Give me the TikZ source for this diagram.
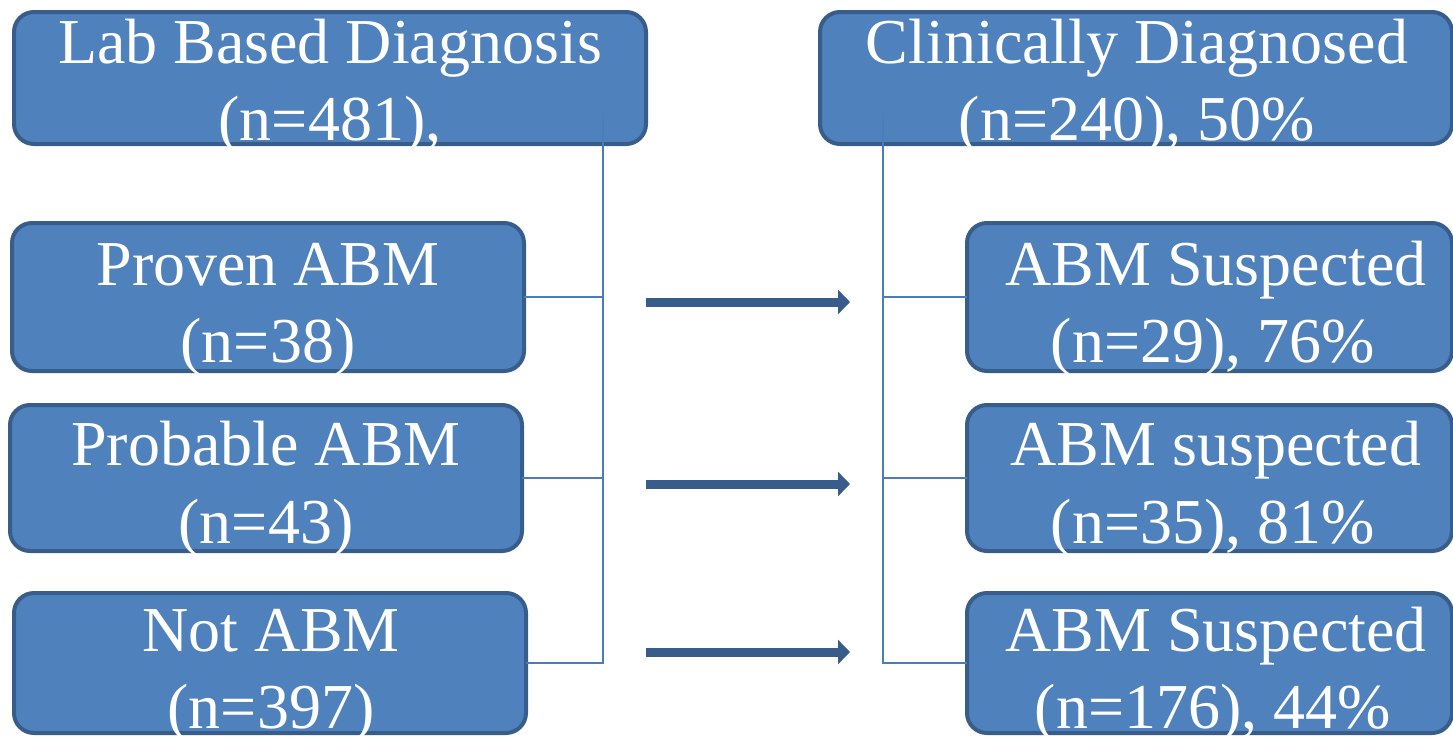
\documentclass[tikz,border=0pt]{standalone}
\usepackage{fontspec}
\setmainfont{Liberation Serif}
\usetikzlibrary{arrows.meta}
\definecolor{boxfill}{HTML}{4F81BD}
\definecolor{boxline}{HTML}{385D8A}
\definecolor{conn}{HTML}{4A7EBB}
\begin{document}
\begin{tikzpicture}[x=1pt,y=-1pt,
  box/.style={draw=boxline, line width=4pt, fill=boxfill, rounded corners=20pt, inner sep=0pt, outer sep=0pt},
  txt/.style={text=white, font=\fontsize{64}{77}\selectfont, anchor=base, inner sep=0pt},
  conline/.style={draw=conn, line width=2pt},
  bigarrow/.style={draw=boxline, line width=9pt, -{Triangle[width=24pt,length=12pt]}}]
\useasboundingbox (0,0) rectangle (1453,736);
% boxes
\node[box, minimum width=632pt, minimum height=132pt] (lab) at (330,78) {};
\node[box, minimum width=632pt, minimum height=132pt] (clin) at (1136,78) {};
\node[box, minimum width=512pt, minimum height=148pt] (prov) at (268,297) {};
\node[box, minimum width=512pt, minimum height=146pt] (prob) at (266,478) {};
\node[box, minimum width=512pt, minimum height=140pt] (notb) at (270,663) {};
\node[box, minimum width=485pt, minimum height=148pt] (sus1) at (1209.5,297) {};
\node[box, minimum width=485pt, minimum height=146pt] (sus2) at (1209.5,478) {};
\node[box, minimum width=485pt, minimum height=140pt] (sus3) at (1209.5,663) {};
% connectors
\coordinate (ltop) at (603,113);
\coordinate (rtop) at (883,113);
\draw[conline] (ltop) -- (ltop |- notb.east) -- (notb.east);
\draw[conline] (prov.east) -- (ltop |- prov.east);
\draw[conline] (prob.east) -- (ltop |- prob.east);
\draw[conline] (rtop) -- (rtop |- sus3.west) -- (sus3.west);
\draw[conline] (sus1.west) -- (rtop |- sus1.west);
\draw[conline] (sus2.west) -- (rtop |- sus2.west);
% arrows
\coordinate (a1s) at (646,302); \coordinate (a1e) at (850,302);
\coordinate (a2s) at (646,484); \coordinate (a2e) at (850,484);
\coordinate (a3s) at (646,652); \coordinate (a3e) at (850,652);
\draw[bigarrow] (a1s) -- (a1e);
\draw[bigarrow] (a2s) -- (a2e);
\draw[bigarrow] (a3s) -- (a3e);
% texts
\node[txt] (labt1) at (330,63) {Lab Based Diagnosis};
\node[txt] (labt2) at (330,140) {(n=481),};
\node[txt] (clint1) at (1137,63) {Clinically Diagnosed};
\node[txt] (clint2) at (1137,140) {(n=240), 50\%};
\node[txt] (provt1) at (268,285) {Proven ABM};
\node[txt] (provt2) at (268,362) {(n=38)};
\node[txt] (probt1) at (266,465) {Probable ABM};
\node[txt] (probt2) at (266,543) {(n=43)};
\node[txt] (nott1) at (271,651) {Not ABM};
\node[txt] (nott2) at (271,728) {(n=397)};
\node[txt] (sus1t1) at (1216,285) {ABM Suspected};
\node[txt] (sus1t2) at (1213,362) {(n=29), 76\%};
\node[txt] (sus2t1) at (1216,465) {ABM suspected};
\node[txt] (sus2t2) at (1213,543) {(n=35), 81\%};
\node[txt] (sus3t1) at (1216,651) {ABM Suspected};
\node[txt] (sus3t2) at (1213,728) {(n=176), 44\%};
\end{tikzpicture}
\end{document}
